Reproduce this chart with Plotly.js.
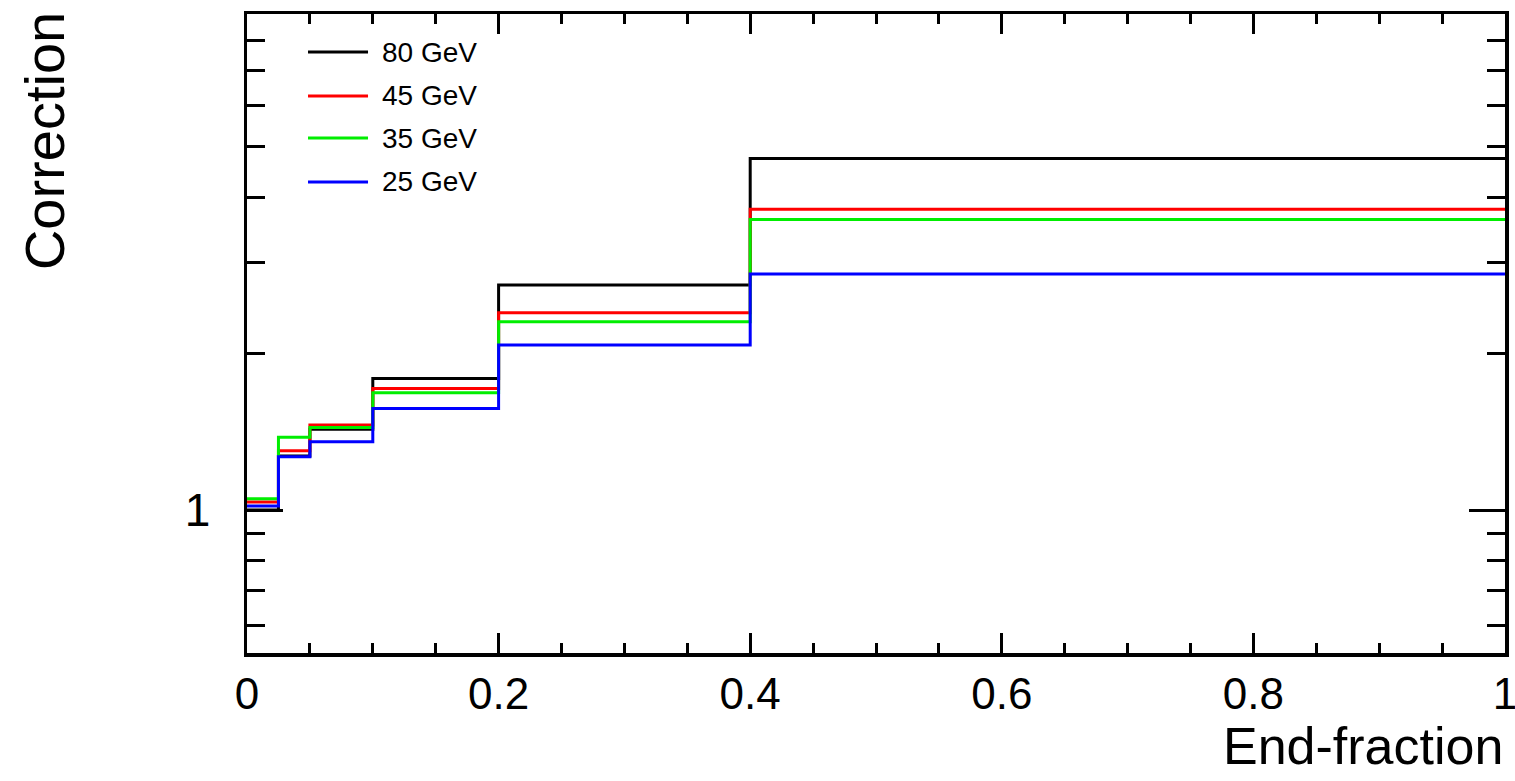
<!DOCTYPE html>
<html>
<head>
<meta charset="utf-8">
<script src="https://cdn.plot.ly/plotly-3.0.1.min.js"></script>
<style>
  html, body { margin: 0; padding: 0; background: #ffffff; }
  #chart { width: 1515px; height: 781px; }
</style>
</head>
<body>
<div id="chart"></div>
<script>
// ---- data ----
const binEdges = [0, 0.025, 0.05, 0.1, 0.2, 0.4, 1.0];
const seriesNames = ["80 GeV", "45 GeV", "35 GeV", "25 GeV"];
const seriesColors = ["#000000", "#ff0000", "#00ee00", "#0000ff"];
const corr80 = [1.000, 1.270, 1.431, 1.792, 2.709, 4.747];
const corr45 = [1.037, 1.300, 1.457, 1.714, 2.396, 3.792];
const corr35 = [1.052, 1.380, 1.442, 1.681, 2.302, 3.623];
const corr25 = [1.018, 1.266, 1.353, 1.569, 2.077, 2.844];
const seriesValues = [corr80, corr45, corr35, corr25];

const xTickVals = [0, 0.2, 0.4, 0.6, 0.8, 1.0];
const xTickText = ["0", "0.2", "0.4", "0.6", "0.8", "1"];
const xMinorTicks = [0.05, 0.1, 0.15, 0.25, 0.3, 0.35, 0.45, 0.5, 0.55, 0.65, 0.7, 0.75, 0.85, 0.9, 0.95];
const yMajorTicks = [1];
const yMinorTicks = [0.6, 0.7, 0.8, 0.9, 2, 3, 4, 5, 6, 7, 8, 9];
const yRange = [0.531, 9.0];

const FONT = '"Liberation Sans", Arial, Helvetica, sans-serif';

const traces = seriesNames.map((name, i) => {
  const vals = seriesValues[i];
  return {
    type: 'scatter',
    mode: 'lines',
    name: name,
    x: binEdges,
    y: vals.concat([vals[vals.length - 1]]),
    line: { shape: 'hv', color: seriesColors[i], width: 3 },
    showlegend: false,
    hoverinfo: 'skip'
  };
});

// custom ROOT-style legend (line sample + label)
const legendRowsY = [0.9405, 0.8717, 0.8059, 0.7371];
const shapes = seriesNames.map((n, i) => ({
  type: 'line', xref: 'paper', yref: 'paper',
  x0: 0.0485, x1: 0.0962, y0: legendRowsY[i], y1: legendRowsY[i],
  line: { color: seriesColors[i], width: 3 }
}));
const annotations = seriesNames.map((n, i) => ({
  xref: 'paper', yref: 'paper', x: 0.1057, y: legendRowsY[i],
  xanchor: 'left', yanchor: 'middle', showarrow: false,
  text: n, font: { family: FONT, size: 28, color: '#000' }
}));
annotations.push({
  xref: 'paper', yref: 'paper', x: -0.1614, y: 1.006,
  xanchor: 'center', yanchor: 'top', showarrow: false, textangle: -90,
  text: 'Correction', font: { family: FONT, size: 56, color: '#000' }
});
annotations.push({
  xref: 'paper', yref: 'paper', x: 1.0, y: -0.146,
  xanchor: 'right', yanchor: 'middle', showarrow: false,
  text: 'End-fraction', font: { family: FONT, size: 52, color: '#000' }
});

const layout = {
  width: 1515, height: 781,
  margin: { l: 247, r: 10, t: 14, b: 128 },
  paper_bgcolor: '#ffffff', plot_bgcolor: '#ffffff',
  showlegend: false,
  font: { family: FONT, color: '#000' },
  xaxis: {
    range: [0, 1],
    tickmode: 'array', tickvals: xTickVals, ticktext: xTickText,
    ticks: 'inside', ticklen: 20, tickwidth: 3, tickcolor: '#000',
    minor: { tickmode: 'array', tickvals: xMinorTicks, ticks: 'inside', ticklen: 10, tickwidth: 3, tickcolor: '#000' },
    showline: true, linewidth: 3.5, linecolor: '#000', mirror: 'ticks',
    showgrid: false, zeroline: false,
    tickfont: { family: FONT, size: 44, color: '#000' },
    ticklabelstandoff: 0,
    ticklabeloverflow: 'allow'
  },
  yaxis: {
    type: 'log',
    range: [Math.log10(yRange[0]), Math.log10(yRange[1])],
    tickmode: 'array', tickvals: yMajorTicks, ticktext: yMajorTicks.map(String),
    ticks: 'inside', ticklen: 36, tickwidth: 3, tickcolor: '#000',
    minor: { tickmode: 'array', tickvals: yMinorTicks, ticks: 'inside', ticklen: 18, tickwidth: 3, tickcolor: '#000' },
    showline: true, linewidth: 3.5, linecolor: '#000', mirror: 'ticks',
    showgrid: false, zeroline: false,
    tickfont: { family: FONT, size: 46, color: '#000' },
    ticklabelstandoff: 24
  },
  shapes: shapes,
  annotations: annotations
};

Plotly.newPlot('chart', traces, layout, { staticPlot: true, displayModeBar: false });
</script>
</body>
</html>
